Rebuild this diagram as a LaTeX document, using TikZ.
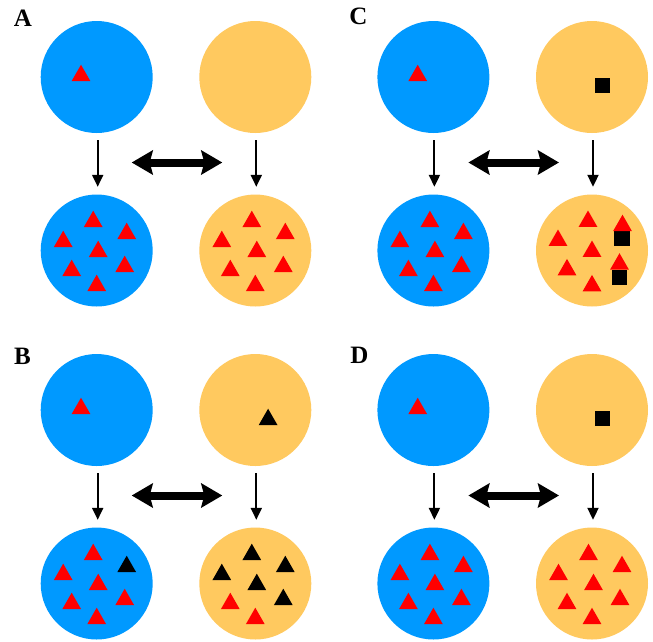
\documentclass[tikz,border=0pt]{standalone}
\usepackage{fontspec}
\setmainfont{Liberation Serif}
\usetikzlibrary{arrows.meta}
\definecolor{cblue}{RGB}{0,153,255}
\definecolor{corange}{RGB}{255,201,95}
\definecolor{cred}{RGB}{255,0,0}
\tikzset{
  bluecirc/.style={circle, fill=cblue, minimum size=112pt, inner sep=0pt},
  orangecirc/.style={circle, fill=corange, minimum size=112pt, inner sep=0pt},
  downarrow/.style={line width=2pt, -{Triangle[length=12pt,width=11pt]}, shorten <=7pt, shorten >=7.5pt},
  bothway/.style={line width=8pt, {Stealth[length=21pt,width=24pt,inset=3pt]}-{Stealth[length=21pt,width=24pt,inset=3pt]}},
  panellabel/.style={font=\bfseries\fontsize{25}{25}\selectfont, inner sep=0pt},
  tri/.pic={\fill[#1] (-9.4,8.1) -- (0,-8.3) -- (9.4,8.1) -- cycle;},
  sq/.pic={\fill[#1] (-7.7,-7.7) rectangle (7.7,7.7);},
}
\newcommand{\sevenpat}[8]{%
  \pic at ([shift={(-3.5,-31.5)}]#1.center) {tri=#2};
  \pic at ([shift={(30,-19.5)}]#1.center) {tri=#3};
  \pic at ([shift={(-33.5,-11.5)}]#1.center) {tri=#4};
  \pic at ([shift={(1.5,-1.5)}]#1.center) {tri=#5};
  \pic at ([shift={(-25,17.5)}]#1.center) {tri=#6};
  \pic at ([shift={(28,13.5)}]#1.center) {tri=#7};
  \pic at ([shift={(0,32.5)}]#1.center) {tri=#8};
}
\newcommand{\panelbase}[1]{%
  \node[bluecirc] (#11) at (96.7,77) {};
  \node[orangecirc] (#12) at (255.3,77) {};
  \node[bluecirc] (#13) at (96.7,250.5) {};
  \node[orangecirc] (#14) at (255.3,250.5) {};
  \draw[downarrow] ([xshift=1pt]#11.south) -- ([xshift=1pt]#13.north);
  \draw[downarrow] ([xshift=1pt]#12.south) -- ([xshift=1pt]#14.north);
  \draw[bothway] ([shift={(35,85.5)}]#11.center) -- ([shift={(-33,85.5)}]#12.center);
  \pic at ([shift={(-15.7,-4)}]#11.center) {tri=cred};
}
\begin{document}
\begin{tikzpicture}[x=1pt,y=-1pt]
  \useasboundingbox (0,0) rectangle (653,641);
  \fill[white] (0,0) rectangle (653,641);
  % Panel A
  \begin{scope}
    \panelbase{A}
    \sevenpat{A3}{cred}{cred}{cred}{cred}{cred}{cred}{cred}
    \sevenpat{A4}{cred}{cred}{cred}{cred}{cred}{cred}{cred}
  \end{scope}
  % Panel C
  \begin{scope}[shift={(336.7,0)}]
    \panelbase{C}
    \pic at ([shift={(10.3,8.5)}]C2.center) {sq=black};
    \sevenpat{C3}{cred}{cred}{cred}{cred}{cred}{cred}{cred}
    \pic at ([shift={(30,-12.5)}]C4.center) {sq=black};
    \pic at ([shift={(27.7,27)}]C4.center) {sq=black};
    \pic at ([shift={(-4,-31.7)}]C4.center) {tri=cred};
    \pic at ([shift={(30.5,-27.5)}]C4.center) {tri=cred};
    \pic at ([shift={(-34,-12.7)}]C4.center) {tri=cred};
    \pic at ([shift={(0,-1.7)}]C4.center) {tri=cred};
    \pic at ([shift={(-25,16.7)}]C4.center) {tri=cred};
    \pic at ([shift={(27.5,11)}]C4.center) {tri=cred};
    \pic at ([shift={(0,32.7)}]C4.center) {tri=cred};
  \end{scope}
  % Panel B
  \begin{scope}[shift={(0,333)}]
    \panelbase{B}
    \pic at ([shift={(12.8,7)}]B2.center) {tri=black};
    \sevenpat{B3}{cred}{black}{cred}{cred}{cred}{cred}{cred}
    \sevenpat{B4}{black}{black}{black}{black}{cred}{black}{cred}
  \end{scope}
  % Panel D
  \begin{scope}[shift={(336.7,333)}]
    \panelbase{D}
    \pic at ([shift={(10.3,8.6)}]D2.center) {sq=black};
    \sevenpat{D3}{cred}{cred}{cred}{cred}{cred}{cred}{cred}
    \sevenpat{D4}{cred}{cred}{cred}{cred}{cred}{cred}{cred}
  \end{scope}
  % Labels
  \node[panellabel] (labA) at (23,18.3) {A};
  \node[panellabel] (labC) at (358.3,16.7) {C};
  \node[panellabel] (labB) at (22.5,356) {B};
  \node[panellabel] (labD) at (359.5,355.3) {D};
\end{tikzpicture}
\end{document}
